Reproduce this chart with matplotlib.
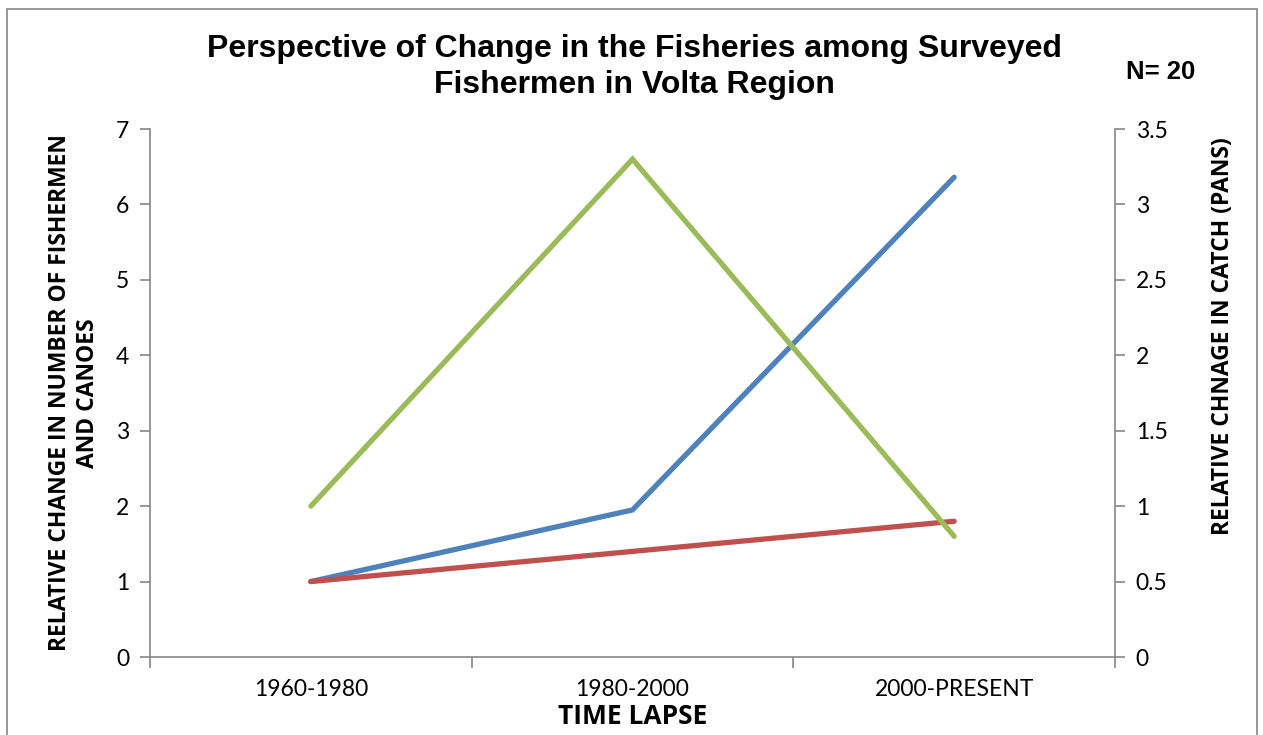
import matplotlib
matplotlib.use('Agg')
import matplotlib.pyplot as plt
from matplotlib.patches import Rectangle

# 조사 어민 20명의 응답 (상대 변화)
periods = ['1960-1980', '1980-2000', '2000-PRESENT']
fishermen = [1.0, 1.95, 6.36]     # 왼쪽 축
canoes = [1.0, 1.4, 1.8]          # 왼쪽 축
catch_pans = [1.0, 3.3, 0.8]      # 오른쪽 축

BLUE = '#4F81BD'
RED = '#C0504D'
GREEN = '#9BBB59'
AXIS_GREY = '#868686'

TICK_FONT = ['Lato', 'DejaVu Sans']
LABEL_FONT = ['Open Sans', 'DejaVu Sans']
BOLD_FONT = ['Liberation Sans', 'DejaVu Sans']

fig = plt.figure(figsize=(12.63, 7.35), dpi=100)
ax = fig.add_axes([150 / 1263, 1 - 657 / 735, (1115 - 150) / 1263, (657 - 129) / 735])
ax2 = ax.twinx()

x = list(range(len(periods)))
ax.plot(x, fishermen, color=BLUE, lw=3.8, solid_capstyle='round', solid_joinstyle='miter')
ax.plot(x, canoes, color=RED, lw=3.8, solid_capstyle='round', solid_joinstyle='miter')
ax2.plot(x, catch_pans, color=GREEN, lw=3.8, solid_capstyle='round', solid_joinstyle='miter')

ax.set_xlim(-0.5, len(periods) - 0.5)
ax.set_ylim(0, 7)
ax2.set_ylim(0, 3.5)
ax.set_yticks(range(0, 8))
ax2.set_yticks([0, 0.5, 1, 1.5, 2, 2.5, 3, 3.5])
ax2.set_yticklabels(['0', '0.5', '1', '1.5', '2', '2.5', '3', '3.5'])

# 카테고리 경계에 눈금, 라벨은 가운데
ax.set_xticks([-0.5, 0.5, 1.5, 2.5])
ax.set_xticklabels([])
ax.set_xticks(x, minor=True)
ax.set_xticklabels(periods, minor=True, fontsize=16.5, family=TICK_FONT)
ax.tick_params(axis='x', which='minor', length=0, pad=16)
ax.tick_params(axis='x', which='major', length=8, color=AXIS_GREY, width=1.2)

for a in (ax, ax2):
    a.spines['top'].set_visible(False)
    for s in a.spines.values():
        s.set_color(AXIS_GREY)
        s.set_linewidth(1.2)
ax.spines['right'].set_visible(False)
ax2.spines['left'].set_visible(False)
ax2.spines['bottom'].set_visible(False)

ax.tick_params(axis='y', length=7, color=AXIS_GREY, width=1.2, labelsize=16.5, pad=8)
ax2.tick_params(axis='y', length=7, color=AXIS_GREY, width=1.2, labelsize=16.5, pad=8)
for lab in ax.get_yticklabels() + ax2.get_yticklabels():
    lab.set_family(TICK_FONT)

ax.set_ylabel('RELATIVE CHANGE IN NUMBER OF FISHERMEN\nAND CANOES',
              fontsize=16.5, fontweight='bold', family=LABEL_FONT,
              linespacing=1.2)
ax.yaxis.set_label_coords(-0.052, 0.5)
ax2.set_ylabel('RELATIVE CHNAGE IN CATCH (PANS)',
               fontsize=16.5, fontweight='bold', family=LABEL_FONT)
ax2.yaxis.set_label_coords(1.10, 0.608)
ax.set_xlabel('TIME LAPSE', fontsize=19, fontweight='bold', family=LABEL_FONT,
              labelpad=2)

fig.text(634 / 1263, 1 - 67 / 735,
         'Perspective of Change in the Fisheries among Surveyed\nFishermen in Volta Region',
         ha='center', va='center', fontsize=23, fontweight='bold',
         family=BOLD_FONT, linespacing=1.25)
fig.text(1161 / 1263, 1 - 72 / 735, 'N= 20', ha='center', va='center',
         fontsize=18.5, fontweight='bold', family=BOLD_FONT)

# 차트 테두리
fig.patches.append(Rectangle((7 / 1263, -0.05), (1257 - 7) / 1263, 1.05 - 9 / 735,
                             transform=fig.transFigure, fill=False,
                             edgecolor=AXIS_GREY, lw=1.2))

fig.savefig('out.png', dpi=100)
